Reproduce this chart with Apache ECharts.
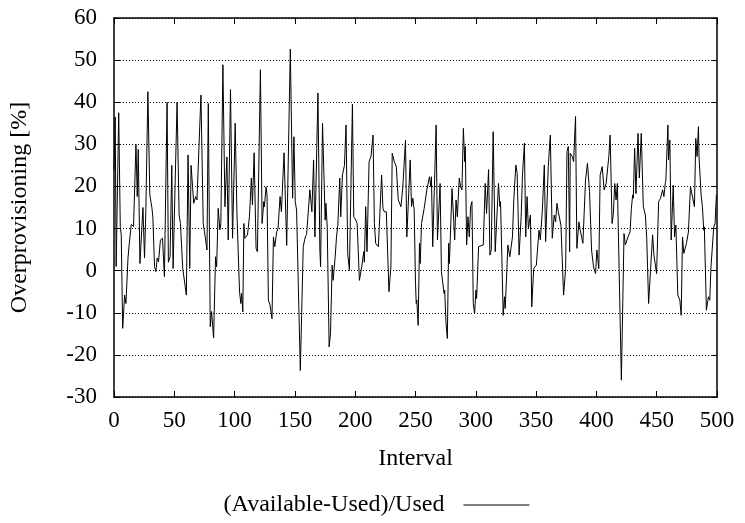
<!DOCTYPE html>
<html>
<head>
<meta charset="utf-8">
<script src="https://cdn.jsdelivr.net/npm/echarts@6/dist/echarts.min.js"></script>
<style>html,body{margin:0;padding:0;background:#fff}#c{width:745px;height:523px}</style>
</head>
<body>
<div id="c"></div>
<script>
const intervals = [
0,1,1.8,3.9,5.2,6,7.2,8.8,9.9,11.6,12.7,14.3,16.2,18.2,19.3,20.1,21.5,22.6,24,25.3,26.4,28.1,29.7,31.4,32.2,33.6,34.7,35.8,36.9,38.5,40.2,41.8,44,45.1,46.5,47.9,49,52.3,54,55.1,57,58.4,60,61.4,62.8,63.9,66.1,67.7,68.8,69.9,72.1,74,76,77.1,78.2,79.8,80.9,82.6,84.2,85.1,86.4,87.8,88.6,90.3,92,93.6,94.7,
96.6,98.3,99.5,100.5,101.9,103,104.1,105.2,105.8,106.8,107.7,108.5,110.7,112.3,113.9,114.8,116.2,117,117.8,118.9,121.4,122.8,124.2,124.7,126.1,126.9,128,129.4,131,132.2,133.3,134.9,136,137.7,138.8,141,143.2,146.2,148.1,149.2,150.3,151.4,152.8,154.5,156.9,158.6,159.7,161.3,162.4,164.1,165.5,166.6,169.1,170.7,171.3,172.9,175.1,175.7,176.8,178.4,179.5,180.9,181.7,183.4,184.5,185.6,187.2,188,189.4,191.1,192.4,
193.8,195.2,197.7,198.8,200.5,201.6,203.5,205.4,207.1,207.6,208.7,209.8,211.5,213.1,214.8,215.9,217,218.1,219.2,221.9,223,224.1,225.8,228,229.6,230.7,232.4,234.1,235.7,237.9,239.5,241.7,242.8,243.9,245.6,246.7,247.8,248.9,250,250.6,251.1,252.2,253.3,253.9,255,256.1,257.2,259.4,260.5,261.6,262.7,263.2,264.3,267.1,268.2,270.4,271.5,272.6,273.7,274.2,275.3,276.4,277.5,278.1,280.3,282.5,283.6,284.7,286.3,287.4,288.5,
289.7,290.8,291.3,292.4,293.5,294.6,295.7,296.8,297.9,299,300.1,300.7,302.3,306.2,307.8,308.9,310.6,311.7,312.8,314.4,316.1,318.8,320,320.5,321.6,322.7,323.8,324.4,326.6,328.2,330.4,331.5,333.2,334.3,335.9,337.6,338.7,340.3,341.4,342.5,343.6,345.3,346.4,348,350.2,352.4,353.5,355.2,356.8,357.9,360.1,361.8,363.4,365,366.2,367.3,368.4,370.6,372.8,374.5,375.6,376.7,377.8,378.3,380,381.1,382.7,383.8,385.5,386.6,388.8,
391,392.6,394.3,396,397.6,399.3,400.4,402,403.1,404.8,406.4,408.1,410.3,411.4,413,414.1,415.2,416.3,417.4,420.7,422.9,424,426.2,427.9,429,430.1,430.6,431.7,432.8,434.5,435.6,437.2,438.9,440.6,441.7,443.3,444.9,446.6,447.7,449.9,451.6,453.2,454.9,456,457.1,457.6,459.3,459.8,460.9,462,463.7,464.8,465.9,467.5,469.2,470.3,471.4,472.5,474.7,476.3,478,479.6,481.3,482.4,483.5,484.6,485.1,486.8,487.9,489,489.5,491.2,492.9,494,495,496.2,497.3,498.4,499.5
];
const overprov = [
24,36.5,1,37.5,10.5,8.5,-13.7,-5.8,-7.8,3,6.5,11,10.5,30,17.6,28.8,1.7,1.3,15,3,14,42.5,18,15,12.8,1,-0.2,3,2.1,7.3,7.7,-1.4,40,2,3.3,25,0.5,40,13.2,11.2,0.5,0.5,-5.8,27.5,0.5,25,16,17.6,16.8,17.2,41.7,11.2,7.3,4.9,39.7,-13.3,-9.7,-16,3.3,0.9,14.8,9.7,11.2,48.9,15.2,27,7.3,
43,7.7,7.7,35,14,13.6,-5,-7.8,-5.4,-9.8,11.2,7.7,8.5,12.8,22,15.6,28,27.6,5.3,4.5,47.7,11.2,16.4,15.2,19.9,18,-7,-8.2,-11.4,8,5.7,9.2,10,17.6,14,28,6,52.6,17.2,31.8,16.4,14.4,-3,-23.7,5.7,8,8.6,8.8,19.2,14,26.3,8,42.2,4.9,0.9,35,12,16,10.4,-18.1,-15,1.3,-2.3,3.3,8,10.8,22,12.8,22.7,25,34.6,
4,0.1,39.5,12.8,12,11.2,-2.3,0.9,4.5,2,15.2,4.5,25.9,27.1,32.2,11.2,6.5,6.1,5.7,22.7,14.8,14,14,-5,0.9,27.9,25.9,24.7,16.8,15.2,19.9,31,8,15.2,26.3,15.2,17.2,14.4,-3,-7.8,-7,-13,6.5,1.7,11.2,11.6,14.8,19.2,18.8,22.3,19.9,22.3,5.7,34.6,7.3,20.7,-0.3,-0.7,-5.4,-4.6,-12.5,-16.1,6.5,1.7,19.5,7.3,16.8,12.8,22,19.9,19.2,
33.8,25.9,29.5,6.1,12.8,8,15.2,16.4,-7.8,-10.2,-4.6,-6.6,5.7,6.1,20.7,13.6,24,3.7,4.9,33,4.5,20.7,15.2,16.4,3.3,-10.6,-6.2,-9,6.1,3.3,8,16.8,25.1,23.1,3.7,12.8,22.7,30.3,8,17.6,10,13.2,-8.6,0.5,1.3,9.6,7.3,14.4,25.1,6.9,24.7,32.2,7.7,13.2,11.6,16,14,10.8,-5.8,0.5,28.3,29.5,4.5,27.9,27.1,25.9,36.6,5.3,11.6,9.6,6.5,
21.5,25.5,18.8,4.9,0.9,-0.7,4.9,0.5,22.7,24.7,19.2,20.7,27.1,32.2,11.2,13.6,20.7,16.8,20.7,-26,8.8,6.1,8,9.2,14.8,18,17.2,29.1,18.3,32.6,22,32.6,15.2,13.2,8,-7.8,-8.2,8.5,3.7,-0.7,16.4,17.2,19.2,17.6,20.7,21.5,34.6,26.3,31,7.3,20.3,8,10.8,-5.8,-7,-10.6,8,4.1,6.5,9.2,19.9,19.9,15.2,31.4,27.1,34.2,27.1,18,15.2,9.6,10.4,-9.4,-6.2,-7,0.9,0.5,10.4,11.2,18
];
const seriesName = '(Available-Used)/Used';
const xTitle = 'Interval';
const yTitle = 'Overprovisioning [%]';

const pts = intervals.map((x, i) => [x, overprov[i]]);
const font = 'Liberation Serif';
const tickTxt = {color: '#000', fontFamily: font, fontSize: 23};
const titleTxt = {color: '#000', fontFamily: font, fontSize: 24};
const axLine = {onZero: false, lineStyle: {color: '#000', width: 1.5}};
const tick = {inside: true, length: 6, lineStyle: {color: '#000', width: 1}};
const chart = echarts.init(document.getElementById('c'), null, {renderer: 'canvas'});
chart.setOption({
  animation: false,
  backgroundColor: '#fff',
  grid: {left: 112, right: 28, top: 18, bottom: 126},
  legend: {
    data: [seriesName], right: 210, top: 488, align: 'right',
    itemWidth: 66, itemHeight: 14, itemGap: 0,
    textStyle: Object.assign({}, titleTxt, {padding: [0, 14, 0, 0]}),
    itemStyle: {opacity: 0},
    lineStyle: {color: '#000', width: 1.2}
  },
  xAxis: [{
    type: 'value', min: 0, max: 500, interval: 50, position: 'bottom',
    name: xTitle, nameLocation: 'middle', nameGap: 50, nameTextStyle: titleTxt,
    axisLine: axLine, axisTick: tick,
    axisLabel: Object.assign({margin: 12}, tickTxt),
    splitLine: {show: false}
  }, {
    type: 'value', min: 0, max: 500, interval: 50, position: 'top',
    axisLine: axLine, axisTick: tick,
    axisLabel: {show: false}, splitLine: {show: false}
  }],
  yAxis: [{
    type: 'value', min: -30, max: 60, interval: 10, position: 'left',
    name: yTitle, nameLocation: 'middle', nameGap: 82, nameTextStyle: titleTxt,
    axisLine: axLine, axisTick: tick,
    axisLabel: Object.assign({margin: 17}, tickTxt),
    splitLine: {show: true, lineStyle: {color: '#000', type: [1, 2], width: 1}}
  }, {
    type: 'value', min: -30, max: 60, interval: 10, position: 'right',
    axisLine: axLine, axisTick: tick,
    axisLabel: {show: false}, splitLine: {show: false}
  }],
  series: [{
    name: seriesName, type: 'line', data: pts,
    xAxisIndex: 0, yAxisIndex: 0,
    symbol: 'none', lineStyle: {color: '#000', width: 1},
    itemStyle: {color: '#000'}
  }]
});
</script>
</body>
</html>
